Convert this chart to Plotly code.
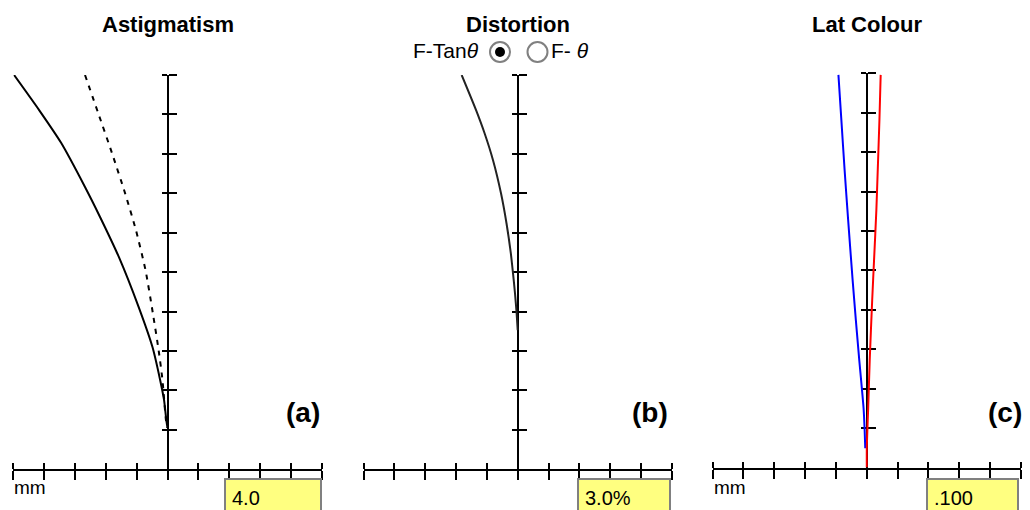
import plotly.graph_objects as go

W, H = 1030, 510
FONT = "Liberation Sans, Arial, sans-serif"

# ---------------- data ----------------
panel_titles = ["Astigmatism", "Distortion", "Lat Colour"]
panel_tags = ["(a)", "(b)", "(c)"]
scale_labels = ["4.0", "3.0%", ".100"]
scale_values = [4.0, 3.0, 0.100]
field_ticks = [0.1, 0.2, 0.3, 0.4, 0.5, 0.6, 0.7, 0.8, 0.9, 1.0]

# Astigmatism (mm) vs relative field
ast_field_tan = [1.0, 0.911, 0.828, 0.716, 0.640, 0.538, 0.412, 0.310, 0.226, 0.176, 0.125, 0.105]
ast_tan = [-3.98, -3.33, -2.76, -2.14, -1.75, -1.26, -0.75, -0.39, -0.19, -0.09, -0.03, 0.0]
ast_field_sag = [1.0, 0.904, 0.802, 0.700, 0.607, 0.505, 0.396, 0.302, 0.226, 0.125, 0.105]
ast_sag = [-2.14, -1.80, -1.44, -1.10, -0.82, -0.57, -0.38, -0.23, -0.13, -0.04, 0.0]

# Distortion (%) vs relative field
dist_field = [1.0, 0.911, 0.853, 0.784, 0.700, 0.624, 0.548, 0.497, 0.447, 0.396, 0.353]
dist_pct = [-1.09, -0.81, -0.646, -0.48, -0.325, -0.218, -0.134, -0.091, -0.053, -0.021, 0.0]

# Lateral colour (mm) vs relative field
lat_field_blue = [0.996, 0.882, 0.755, 0.628, 0.476, 0.374, 0.273, 0.209, 0.151, 0.095, 0.049]
lat_blue = [-0.0184, -0.0165, -0.0144, -0.0121, -0.0092, -0.0071, -0.0049, -0.0034, -0.0021, -0.0014, -0.0010]
lat_field_red = [0.996, 0.882, 0.755, 0.653, 0.526, 0.425, 0.273, 0.151, 0.052, 0.0]
lat_red = [0.0090, 0.0082, 0.0071, 0.0062, 0.0047, 0.0035, 0.0019, 0.0009, 0.0, 0.0]

# ---------------- layout geometry (pixels) ----------------
centers = [167.5, 517.7, 866.8]
half = 154.2
bottoms = [469.3, 469.3, 467.5]
tops = [75.0, 75.0, 73.3]
tag_x = [303, 650, 1005]
box_x = [(225, 321), (578, 670), (927, 1018)]


def px(x):
    return x / W


def py(y):
    return 1 - y / H


fig = go.Figure()

traces = [
    [(ast_tan, ast_field_tan, "#000000", "solid"), (ast_sag, ast_field_sag, "#000000", "5px,6px")],
    [(dist_pct, dist_field, "#222222", "solid")],
    [(lat_blue, lat_field_blue, "#0000ff", "solid"), (lat_red, lat_field_red, "#ff0000", "solid")],
]

layout = dict(
    width=W, height=H, autosize=False,
    margin=dict(l=0, r=0, t=0, b=0),
    paper_bgcolor="white", plot_bgcolor="rgba(0,0,0,0)",
    showlegend=False,
    font=dict(family=FONT, color="black"),
)

annotations = []
shapes = []

for i in range(3):
    n = i + 1
    s = scale_values[i]
    c = centers[i]
    xticks = [s * k / 5 for k in range(-5, 6)]
    xd = [px(c - half), px(c + half)]
    yd = [py(bottoms[i]), py(tops[i])]

    common = dict(showgrid=False, zeroline=False, showticklabels=False,
                  tickcolor="black", tickwidth=2, layer="below traces")

    layout[f"xaxis{n if n > 1 else ''}"] = dict(
        domain=xd, range=[-s, s], anchor=f"y{n}", side="bottom",
        showline=True, linecolor="black", linewidth=2,
        ticks="outside", ticklen=9, tickmode="array", tickvals=xticks, **common)
    layout[f"xaxis{n + 3}"] = dict(
        overlaying=f"x{n}", range=[-s, s], anchor="free", position=yd[0], side="top",
        showline=False, ticks="outside", ticklen=6, tickmode="array", tickvals=xticks, **common)
    layout[f"yaxis{n if n > 1 else ''}"] = dict(
        domain=yd, range=[0, 1], anchor="free", position=px(c), side="left",
        showline=True, linecolor="black", linewidth=2,
        ticks="outside", ticklen=5, tickmode="array", tickvals=field_ticks, **common)
    layout[f"yaxis{n + 3}"] = dict(
        overlaying=f"y{n}", range=[0, 1], anchor="free", position=px(c), side="right",
        showline=False, ticks="outside", ticklen=8, tickmode="array", tickvals=field_ticks, **common)

    for xs, ys, col, dash in traces[i]:
        fig.add_trace(go.Scatter(x=xs, y=ys, mode="lines", xaxis=f"x{n}", yaxis=f"y{n}",
                                 line=dict(color=col, width=2, dash=dash, shape="spline", smoothing=0.6),
                                 cliponaxis=False, hoverinfo="skip"))
    # empty helper traces so overlay axes get a subplot
    fig.add_trace(go.Scatter(x=[], y=[], xaxis=f"x{n + 3}", yaxis=f"y{n}", hoverinfo="skip"))
    fig.add_trace(go.Scatter(x=[], y=[], xaxis=f"x{n}", yaxis=f"y{n + 3}", hoverinfo="skip"))

    # title
    annotations.append(dict(x=px(c), y=py(24), xref="paper", yref="paper",
                            text=f"<b>{panel_titles[i]}</b>", showarrow=False,
                            xanchor="center", yanchor="middle",
                            font=dict(size=22, family=FONT, color="black")))
    # tag
    annotations.append(dict(x=px(tag_x[i]), y=py(412), xref="paper", yref="paper",
                            text=f"<b>{panel_tags[i]}</b>", showarrow=False,
                            xanchor="center", yanchor="middle",
                            font=dict(size=28, family=FONT, color="black")))
    # value box
    bx0, bx1 = box_x[i]
    shapes.append(dict(type="rect", xref="paper", yref="paper",
                       x0=px(bx0), x1=px(bx1), y0=py(530), y1=py(479),
                       fillcolor="#ffff80", line=dict(color="#808080", width=2), layer="above"))
    annotations.append(dict(x=px(bx0 + 5), y=py(498), xref="paper", yref="paper",
                            text=scale_labels[i], showarrow=False,
                            xanchor="left", yanchor="middle",
                            font=dict(size=20, family=FONT, color="black")))

# unit labels
for xl in [12, 712]:
    annotations.append(dict(x=px(xl), y=py(487), xref="paper", yref="paper",
                            text="mm", showarrow=False, xanchor="left", yanchor="middle",
                            font=dict(size=19, family=FONT, color="black")))

# distortion mode selector
annotations.append(dict(x=px(411), y=py(51), xref="paper", yref="paper",
                        text="F-Tan<i>θ</i>", showarrow=False, xanchor="left", yanchor="middle",
                        font=dict(size=21, family=FONT, color="black")))
annotations.append(dict(x=px(549), y=py(51), xref="paper", yref="paper",
                        text="F- <i>θ</i>", showarrow=False, xanchor="left", yanchor="middle",
                        font=dict(size=21, family=FONT, color="black")))
for cx, cy, r, filled in [(500, 52, 10, True), (537.5, 52, 10, False)]:
    shapes.append(dict(type="circle", xref="paper", yref="paper",
                       x0=px(cx - r), x1=px(cx + r), y0=py(cy + r), y1=py(cy - r),
                       fillcolor="white", line=dict(color="#808080", width=2)))
    if filled:
        shapes.append(dict(type="circle", xref="paper", yref="paper",
                           x0=px(cx - 5), x1=px(cx + 5), y0=py(cy + 5), y1=py(cy - 5),
                           fillcolor="black", line=dict(color="black", width=0)))

layout["annotations"] = annotations
layout["shapes"] = shapes
fig.update_layout(**layout)

fig.write_html("out.html")
